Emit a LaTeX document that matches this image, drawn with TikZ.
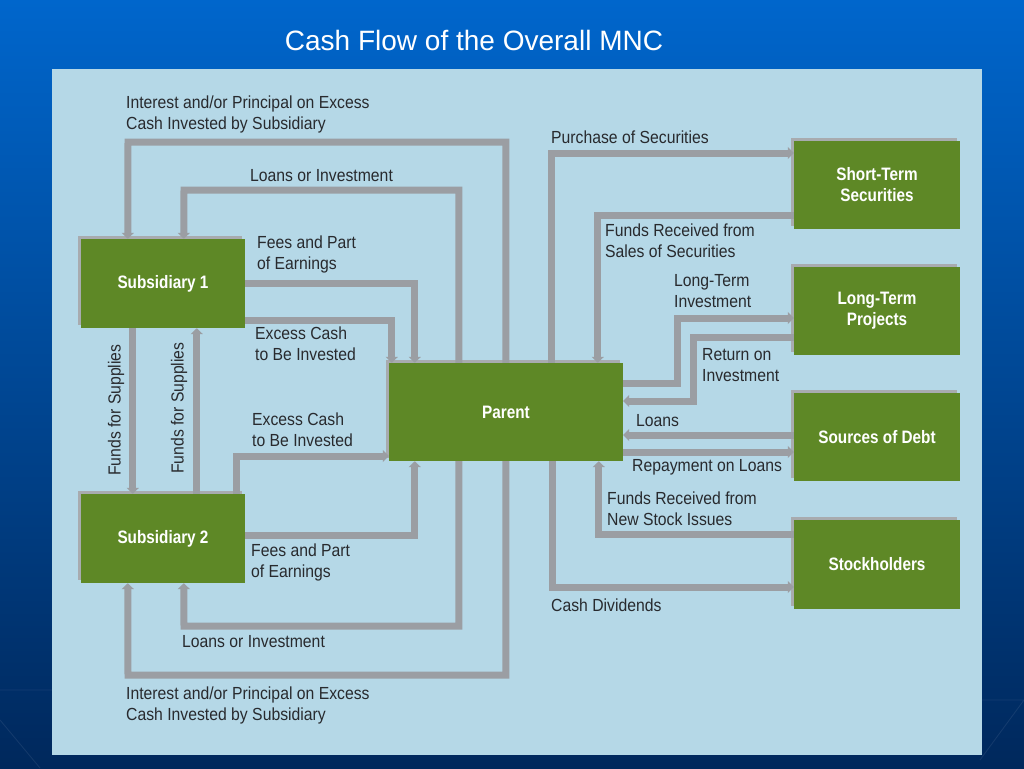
\documentclass[tikz,border=0pt]{standalone}
\usepackage{fontspec}
\usetikzlibrary{arrows.meta,shadows}
\setmainfont{Liberation Sans}
\newfontfamily\labf[FakeStretch=0.9]{Liberation Sans}
\newfontfamily\boxf[FakeStretch=0.85]{Liberation Sans}
\definecolor{bgtop}{RGB}{0,102,204}
\definecolor{bgbot}{RGB}{0,40,92}
\definecolor{panel}{RGB}{181,216,231}
\definecolor{boxgreen}{RGB}{94,136,38}
\definecolor{flowgrey}{RGB}{155,158,163}
\definecolor{shadowgrey}{RGB}{168,171,175}
\definecolor{labtext}{RGB}{40,42,46}
\tikzset{
  unit/.style={fill=boxgreen, draw=none, text=white, inner sep=0pt, align=center,
    font=\boxf\bfseries\fontsize{18}{21}\selectfont,
    general shadow={shadow xshift=-3pt, shadow yshift=3pt, fill=shadowgrey}},
  flow/.style={draw=flowgrey, line width=7pt, line join=miter,
    -{Triangle[width=12pt,length=6pt]}},
  lab/.style={text=labtext, inner sep=0pt, anchor=west, align=left,
    font=\labf\fontsize{17.5}{21}\selectfont},
  titletext/.style={text=white, inner sep=0pt, font=\fontsize{28}{32}\selectfont},
}
\begin{document}
\begin{tikzpicture}[x=1pt,y=-1pt]
\useasboundingbox (0,0) rectangle (1024,768);
\shade[top color=bgtop, bottom color=bgbot] (0,0) rectangle (1024,768);
\draw[white, opacity=0.08, line width=0.8pt] (0,690) -- (52,690) (982,700) -- (1024,700)
  (0,720) -- (40,768) (980,760) -- (1024,700);
\node[titletext] (title) at (474,40) {Cash Flow of the Overall MNC};
\fill[panel] (52,69) rectangle (982,755);

% boxes
\node[unit, minimum width=164pt, minimum height=89pt] (sub1) at (163,283.5) {Subsidiary 1};
\node[unit, minimum width=164pt, minimum height=89pt] (sub2) at (163,538.5) {Subsidiary 2};
\node[unit, minimum width=234pt, minimum height=98pt] (parent) at (506,412) {Parent};
\node[unit, minimum width=166pt, minimum height=88pt] (sts) at (877,185) {Short-Term\\Securities};
\node[unit, minimum width=166pt, minimum height=88pt] (ltp) at (877,311) {Long-Term\\Projects};
\node[unit, minimum width=166pt, minimum height=88pt] (sod) at (877,437) {Sources of Debt};
\node[unit, minimum width=166pt, minimum height=89pt] (stk) at (877,564.5) {Stockholders};

% left side flows
\draw[flow] ([xshift=117pt]parent.north west) |- (128,142) -- ([xshift=47pt]sub1.north west);
\draw[flow] ([xshift=70pt]parent.north west) |- (184,190) -- ([xshift=103pt]sub1.north west);
\draw[flow] (sub1.east) -| ([xshift=26pt]parent.north west);
\draw[flow] ([yshift=-36.5pt]sub1.east) -| ([xshift=3pt]parent.north west);
\draw[flow] ([xshift=52pt]sub1.south west) -- ([xshift=52pt]sub2.north west);
\draw[flow] ([xshift=116pt]sub2.north west) -- ([xshift=116pt]sub1.south west);
\draw[flow] ([xshift=156pt]sub2.north west) |- ([yshift=-44pt]parent.west);
\draw[flow] ([yshift=3.5pt]sub2.east) -| ([xshift=26pt]parent.south west);
\draw[flow] ([xshift=70pt]parent.south west) |- (184,626) -- ([xshift=103pt]sub2.south west);
\draw[flow] ([xshift=117pt]parent.south west) |- (128,675) -- ([xshift=47pt]sub2.south west);

% right side flows
\draw[flow] ([xshift=163pt]parent.north west) |- ([yshift=32pt]sts.west);
\draw[flow] ([yshift=-30pt]sts.west) -| ([xshift=209pt]parent.north west);
\draw[flow] ([yshift=29pt]parent.east) -- ++(54,0) |- ([yshift=-7pt]ltp.west);
\draw[flow] ([yshift=-26pt]ltp.west) -- ++(-100,0) |- ([yshift=11pt]parent.east);
\draw[flow] ([yshift=2pt]sod.west) -- ([yshift=-23pt]parent.east);
\draw[flow] ([yshift=-40pt]parent.east) -- ([yshift=-15pt]sod.west);
\draw[flow] ([yshift=30.5pt]stk.west) -| ([xshift=210pt]parent.south west);
\draw[flow] ([xshift=164pt]parent.south west) |- ([yshift=-22.5pt]stk.west);

% labels
\node[lab] (l1) at (126,114.5) {Interest and/or Principal on Excess\\Cash Invested by Subsidiary};
\node[lab] (l2) at (250,176) {Loans or Investment};
\node[lab] (l3) at (257,254.5) {Fees and Part\\of Earnings};
\node[lab] (l4) at (255,344) {Excess Cash\\to Be Invested};
\node[lab, anchor=center, rotate=90] (l5) at (116,410) {Funds for Supplies};
\node[lab, anchor=center, rotate=90] (l6) at (179,408) {Funds for Supplies};
\node[lab] (l7) at (252,430) {Excess Cash\\to Be Invested};
\node[lab] (l8) at (251,562) {Fees and Part\\of Earnings};
\node[lab] (l9) at (182,642) {Loans or Investment};
\node[lab] (l10) at (126,705) {Interest and/or Principal on Excess\\Cash Invested by Subsidiary};
\node[lab] (r1) at (551,137) {Purchase of Securities};
\node[lab] (r2) at (605,241) {Funds Received from\\Sales of Securities};
\node[lab] (r3) at (674,291.5) {Long-Term\\Investment};
\node[lab] (r4) at (702,365.5) {Return on\\Investment};
\node[lab] (r5) at (636,421) {Loans};
\node[lab] (r6) at (632,467) {Repayment on Loans};
\node[lab] (r7) at (607,508.5) {Funds Received from\\New Stock Issues};
\node[lab] (r8) at (551,605) {Cash Dividends};
\end{tikzpicture}
\end{document}
